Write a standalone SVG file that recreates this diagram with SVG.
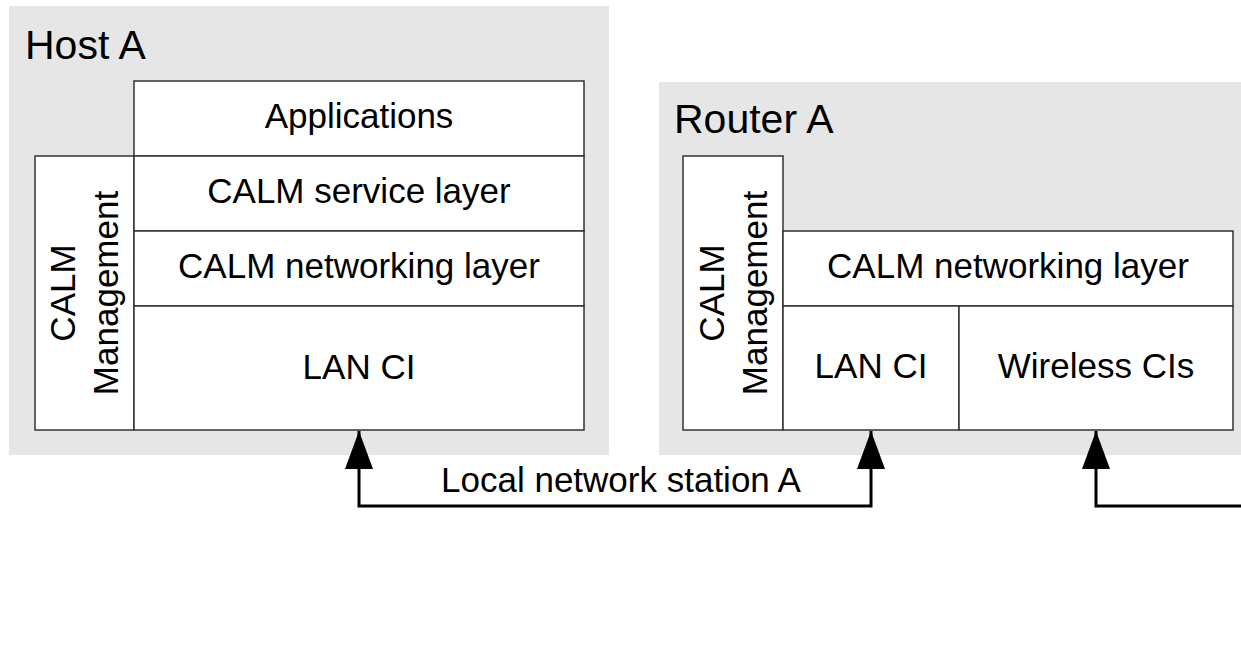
<svg xmlns="http://www.w3.org/2000/svg" width="1241" height="647" viewBox="0 0 1241 647">
<style>
.bg{fill:#e6e6e6;stroke:none}
.box{fill:#ffffff;stroke:#333333;stroke-width:1.5}
.t{font-family:"Liberation Sans",Arial,sans-serif;font-size:35px;fill:#000;text-anchor:middle}
.title{font-family:"Liberation Sans",Arial,sans-serif;font-size:41px;fill:#000}
.conn{fill:none;stroke:#000;stroke-width:3}
</style>
<defs>
<marker id="arr" viewBox="0 0 38 28" refX="38" refY="14" markerWidth="38" markerHeight="28" markerUnits="userSpaceOnUse" orient="auto">
<path d="M0,0 L38,14 L0,28 Z" fill="#000"/>
</marker>
</defs>
<rect width="1241" height="647" fill="#ffffff"/>
<g id="hostA">
<rect class="bg" x="9" y="6" width="600" height="449"/>
<text class="title" x="25" y="59">Host A</text>
<g id="hostA-apps"><rect class="box" x="134" y="81" width="450" height="75"/><text class="t" x="359" y="128">Applications</text></g>
<g id="hostA-mgmt"><rect class="box" x="35" y="156" width="99" height="274"/>
<text class="t" transform="translate(75,293) rotate(-90)">CALM</text>
<text class="t" transform="translate(118,293) rotate(-90)">Management</text></g>
<g id="hostA-service"><rect class="box" x="134" y="156" width="450" height="75"/><text class="t" x="359" y="203">CALM service layer</text></g>
<g id="hostA-net"><rect class="box" x="134" y="231" width="450" height="75"/><text class="t" x="359" y="278">CALM networking layer</text></g>
<g id="hostA-lan"><rect class="box" x="134" y="306" width="450" height="124"/><text class="t" x="359" y="379">LAN CI</text></g>
</g>
<g id="routerA">
<rect class="bg" x="659" y="82" width="590" height="373"/>
<text class="title" x="674" y="133">Router A</text>
<g id="routerA-mgmt"><rect class="box" x="683" y="156" width="100" height="274"/>
<text class="t" transform="translate(724,293) rotate(-90)">CALM</text>
<text class="t" transform="translate(767,293) rotate(-90)">Management</text></g>
<g id="routerA-net"><rect class="box" x="783" y="231" width="450" height="75"/><text class="t" x="1008" y="278">CALM networking layer</text></g>
<g id="routerA-lan"><rect class="box" x="783" y="306" width="176" height="124"/><text class="t" x="871" y="378">LAN CI</text></g>
<g id="routerA-wireless"><rect class="box" x="959" y="306" width="274" height="124"/><text class="t" x="1096" y="378">Wireless CIs</text></g>
</g>
<g id="connectors">
<path class="conn" d="M614,506 L359,506 L359,431" marker-end="url(#arr)"/>
<path class="conn" d="M614,506 L871,506 L871,431" marker-end="url(#arr)"/>
<path class="conn" d="M1245,506 L1096,506 L1096,431" marker-end="url(#arr)"/>
<text class="t" x="621" y="492">Local network station A</text>
</g>
</svg>
